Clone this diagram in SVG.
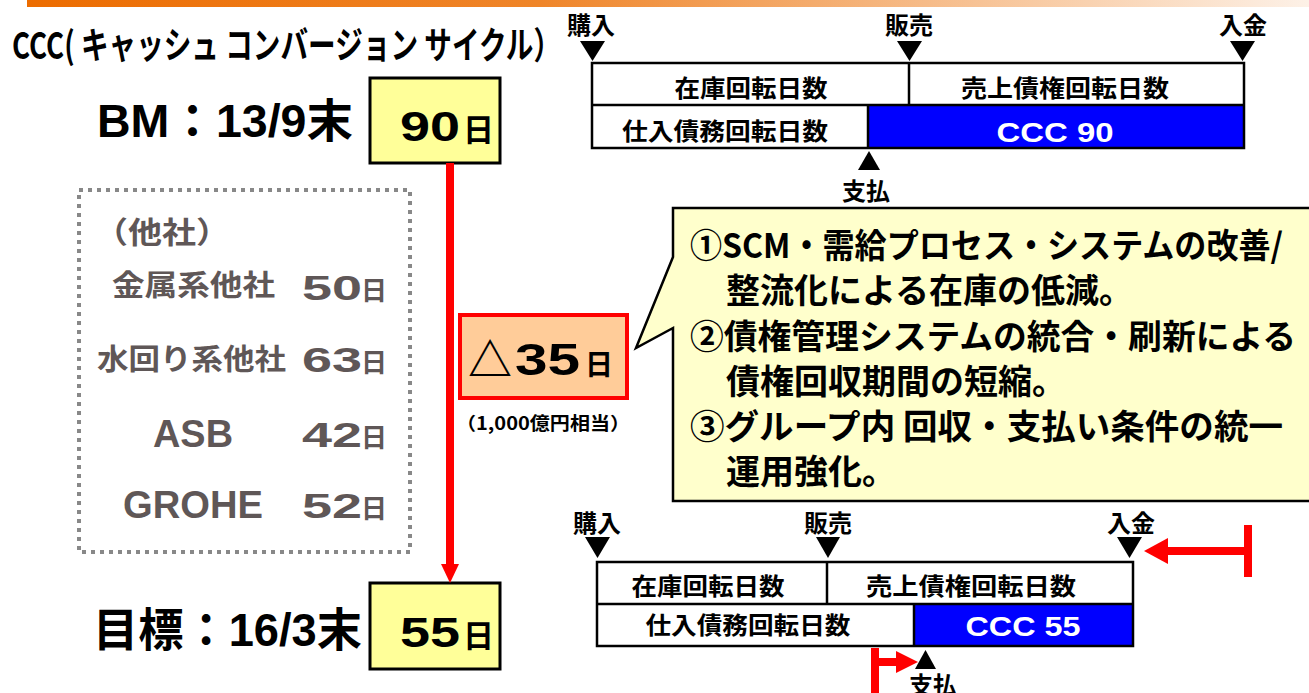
<svg xmlns="http://www.w3.org/2000/svg" width="1309" height="693" viewBox="0 0 1309 693">
<defs>
<linearGradient id="bar" x1="0" y1="0" x2="1" y2="0">
<stop offset="0" stop-color="#ec6c00"/>
<stop offset="0.4" stop-color="#ef8529"/>
<stop offset="1" stop-color="#fdf1e7"/>
</linearGradient>
<style>
.jp{font-family:"Noto Sans CJK JP",sans-serif;font-weight:700}
.lat{font-family:"Liberation Sans","Noto Sans CJK JP",sans-serif;font-weight:700}
.gray{fill:#5f5757}
.cell{fill:#fff;stroke:none}
.ln{stroke:#000;stroke-width:2.5;fill:none}
.tri{fill:#000}
.red{fill:#ff0000}
.rl{stroke:#ff0000;stroke-width:8;fill:none}
.yb{fill:#ffff99;stroke:#000;stroke-width:3}
.lbl{font-size:24px}
.row{font-size:24px}
.ccc{font-size:28px;fill:#fff}
.cl{font-size:34px}
</style>
</defs>
<rect x="27" y="0" width="1282" height="7" fill="url(#bar)"/>
<g id="title"><text class="jp" x="12" y="59" font-size="37" textLength="549" lengthAdjust="spacingAndGlyphs">CCC( キャッシュ コンバージョン サイクル）</text></g>

<g id="bm-label"><text class="lat" x="97" y="137" font-size="46" textLength="256" lengthAdjust="spacingAndGlyphs">BM：13/9末</text></g>
<g id="bm-box"><rect class="yb" x="370" y="78" width="130" height="85"/>
<text class="lat" x="400" y="141" font-size="42" textLength="60" lengthAdjust="spacingAndGlyphs">90</text>
<text class="jp" x="463" y="141" font-size="31">日</text></g>

<g id="target-label"><text class="lat" x="93" y="646" font-size="46" textLength="269" lengthAdjust="spacingAndGlyphs">目標：16/3末</text></g>
<g id="target-box"><rect class="yb" x="370" y="583" width="130" height="86"/>
<text class="lat" x="400" y="647" font-size="42" textLength="60" lengthAdjust="spacingAndGlyphs">55</text>
<text class="jp" x="463" y="647" font-size="31">日</text></g>

<g id="others">
<rect x="79" y="190" width="331" height="362" fill="none" stroke="#888" stroke-width="4" stroke-dasharray="4 5"/>
<text class="jp gray" x="94" y="243" font-size="30" textLength="136" lengthAdjust="spacingAndGlyphs">（他社）</text>
<text class="jp gray" x="112" y="296" font-size="29" textLength="163" lengthAdjust="spacingAndGlyphs">金属系他社</text>
<text class="lat gray" x="302" y="300" font-size="35" textLength="60" lengthAdjust="spacingAndGlyphs">50</text>
<text class="jp gray" x="361" y="300" font-size="26">日</text>
<text class="jp gray" x="97" y="370" font-size="29" textLength="189" lengthAdjust="spacingAndGlyphs">水回り系他社</text>
<text class="lat gray" x="302" y="372" font-size="35" textLength="60" lengthAdjust="spacingAndGlyphs">63</text>
<text class="jp gray" x="361" y="372" font-size="26">日</text>
<text class="lat gray" x="153" y="447" font-size="39" textLength="80" lengthAdjust="spacingAndGlyphs">ASB</text>
<text class="lat gray" x="302" y="447" font-size="35" textLength="60" lengthAdjust="spacingAndGlyphs">42</text>
<text class="jp gray" x="361" y="447" font-size="26">日</text>
<text class="lat gray" x="123" y="518" font-size="39" textLength="140" lengthAdjust="spacingAndGlyphs">GROHE</text>
<text class="lat gray" x="302" y="518" font-size="35" textLength="60" lengthAdjust="spacingAndGlyphs">52</text>
<text class="jp gray" x="361" y="518" font-size="26">日</text>
</g>

<g id="connectors">
<line class="rl" x1="450" y1="163" x2="450" y2="566" stroke-width="7"/>
<polygon class="red" points="441,564 459,564 450,583"/>
<line class="rl" x1="1248" y1="525" x2="1248" y2="577"/>
<line class="rl" x1="1166" y1="551" x2="1248" y2="551"/>
<polygon class="red" points="1144,551 1168,538 1168,564"/>
<line class="rl" x1="875" y1="648" x2="875" y2="693"/>
<line class="rl" x1="875" y1="662" x2="898" y2="662"/>
<polygon class="red" points="918,662 896,651 896,673"/>
</g>

<g id="delta-box">
<rect x="460" y="315" width="167" height="83" fill="#ffcc99" stroke="#ff0000" stroke-width="4"/>
<text class="jp" x="468" y="376" font-size="44">△</text>
<text class="lat" x="515" y="375" font-size="45" textLength="65" lengthAdjust="spacingAndGlyphs">35</text>
<text class="jp" x="585" y="375" font-size="28">日</text>
</g>
<g id="delta-note"><text class="jp" x="456" y="430" font-size="18" textLength="174" lengthAdjust="spacingAndGlyphs">（1,000億円相当）</text></g>

<g id="callout">
<path d="M1314,208 L673,208 L673,257 L636,348 L673,328 L673,501 L1314,501" fill="#ffffcc" stroke="#000" stroke-width="2.5"/>
<text class="jp cl" x="690" y="258" textLength="593" lengthAdjust="spacingAndGlyphs">①SCM・需給プロセス・システムの改善/</text>
<text class="jp cl" x="726" y="303">整流化による在庫の低減。</text>
<text class="jp cl" x="690" y="349" textLength="606" lengthAdjust="spacingAndGlyphs">②債権管理システムの統合・刷新による</text>
<text class="jp cl" x="726" y="394">債権回収期間の短縮。</text>
<text class="jp cl" x="690" y="439" textLength="593" lengthAdjust="spacingAndGlyphs">③グループ内 回収・支払い条件の統一</text>
<text class="jp cl" x="726" y="484">運用強化。</text>
</g>

<g id="timeline-top">
<text class="jp lbl" x="567" y="34">購入</text>
<text class="jp lbl" x="885" y="34">販売</text>
<text class="jp lbl" x="1219" y="34">入金</text>
<polygon class="tri" points="580,41 605,41 592.5,61"/>
<polygon class="tri" points="897,41 922,41 909.5,61"/>
<polygon class="tri" points="1230,41 1255,41 1242.5,61"/>
<rect class="cell" x="592" y="63" width="652" height="85"/>
<rect x="868" y="105" width="376" height="43" fill="#0000ff"/>
<rect class="ln" x="592" y="63" width="652" height="85" stroke-width="3"/>
<line class="ln" x1="592" y1="105" x2="1244" y2="105"/>
<line class="ln" x1="909" y1="63" x2="909" y2="105"/>
<line class="ln" x1="868" y1="105" x2="868" y2="148"/>
<text class="jp row" x="751" y="97" text-anchor="middle" textLength="153" lengthAdjust="spacingAndGlyphs">在庫回転日数</text>
<text class="jp row" x="1065" y="97" text-anchor="middle" textLength="208" lengthAdjust="spacingAndGlyphs">売上債権回転日数</text>
<text class="jp row" x="725" y="140" text-anchor="middle" textLength="206" lengthAdjust="spacingAndGlyphs">仕入債務回転日数</text>
<text class="lat ccc" x="1055" y="142" text-anchor="middle" textLength="117" lengthAdjust="spacingAndGlyphs">CCC 90</text>
<polygon class="tri" points="858,170 880,170 869,151"/>
<text class="jp lbl" x="842" y="200">支払</text>
</g>

<g id="timeline-bottom">
<text class="jp lbl" x="573" y="532">購入</text>
<text class="jp lbl" x="804" y="532">販売</text>
<text class="jp lbl" x="1107" y="532">入金</text>
<polygon class="tri" points="585,537 610,537 597.5,558"/>
<polygon class="tri" points="816,537 840,537 828,558"/>
<polygon class="tri" points="1117,537 1142,537 1129.5,558"/>
<rect class="cell" x="597" y="562" width="536" height="84"/>
<rect x="914" y="604" width="219" height="42" fill="#0000ff"/>
<rect class="ln" x="597" y="562" width="536" height="84" stroke-width="3"/>
<line class="ln" x1="597" y1="604" x2="1133" y2="604"/>
<line class="ln" x1="827" y1="562" x2="827" y2="604"/>
<line class="ln" x1="914" y1="604" x2="914" y2="646"/>
<text class="jp row" x="708" y="595" text-anchor="middle" textLength="153" lengthAdjust="spacingAndGlyphs">在庫回転日数</text>
<text class="jp row" x="971" y="595" text-anchor="middle" textLength="210" lengthAdjust="spacingAndGlyphs">売上債権回転日数</text>
<text class="jp row" x="748" y="634" text-anchor="middle" textLength="205" lengthAdjust="spacingAndGlyphs">仕入債務回転日数</text>
<text class="lat ccc" x="1023" y="636" text-anchor="middle" textLength="115" lengthAdjust="spacingAndGlyphs">CCC 55</text>
<polygon class="tri" points="915,669 936,669 925.5,650"/>
<text class="jp lbl" x="909" y="694">支払</text>
</g>
</svg>
